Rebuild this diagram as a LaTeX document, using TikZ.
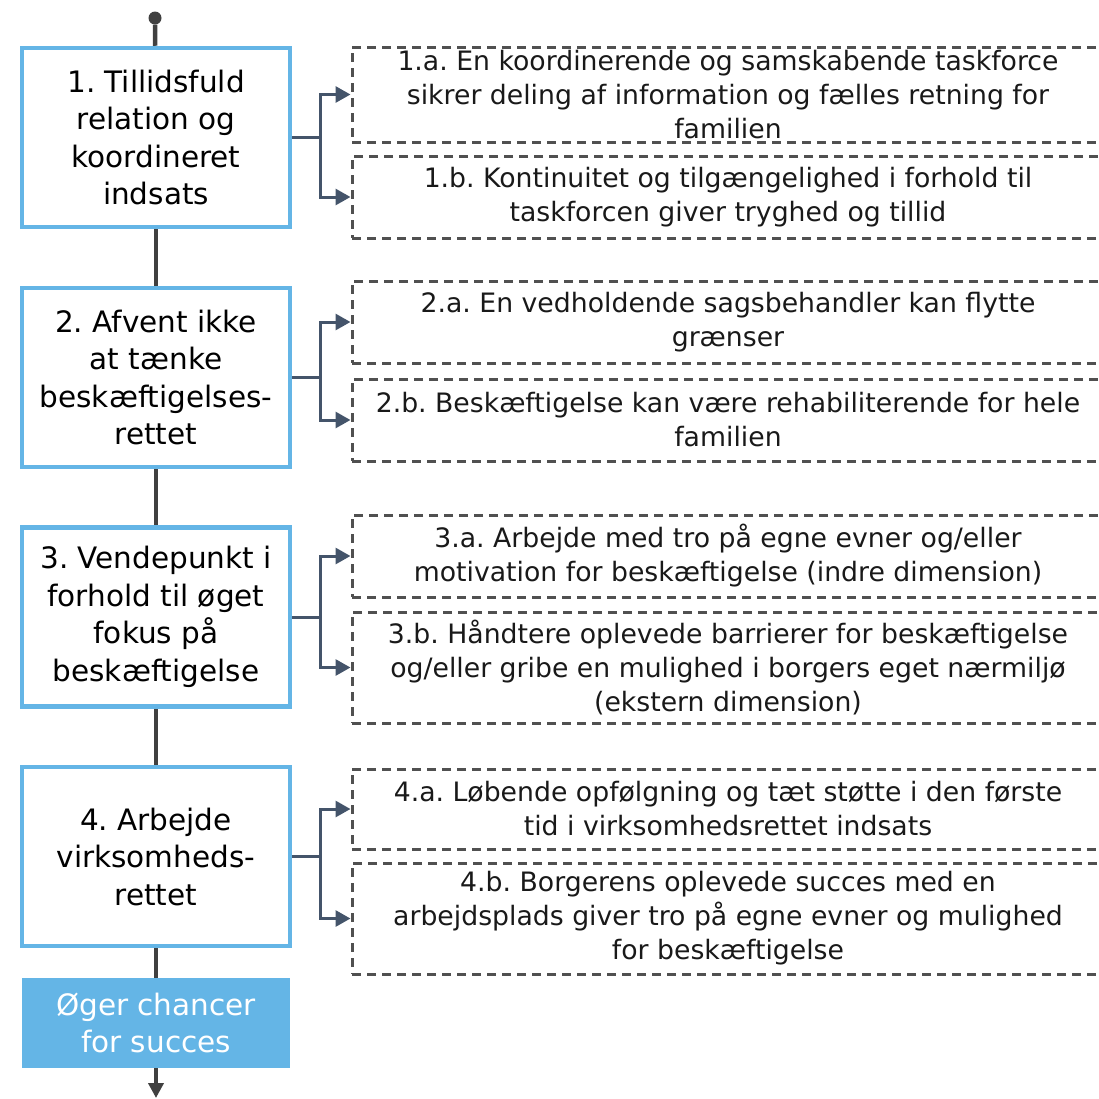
\documentclass[tikz,border=0pt]{standalone}
\usepackage{fontspec}
\setmainfont{DejaVu Sans}
\usepackage{xcolor}
\usepackage{tikz}
\usetikzlibrary{arrows.meta}
\definecolor{stageblue}{HTML}{64B5E6}
\definecolor{lineblack}{HTML}{404040}
\definecolor{slate}{HTML}{44546A}
\definecolor{dashgray}{HTML}{505050}
\frenchspacing

\begin{document}
\begin{tikzpicture}[
    x=1pt, y=-1pt,
    stage/.style={draw=stageblue, line width=4.5pt, fill=white, align=center, minimum width=268pt, minimum height=179pt, inner sep=0pt, font=\fontsize{29.5}{37.5}\selectfont},
    finding/.style={draw=dashgray, line width=3pt, dash pattern=on 9pt off 6pt, align=center, minimum width=752pt, inner sep=0pt, text=black!90, font=\fontsize{26.7}{34}\selectfont},
    result/.style={fill=stageblue, text=white, align=center, minimum width=268pt, minimum height=90pt, inner sep=0pt, font=\fontsize{29.5}{37.5}\selectfont},
    flow/.style={draw=lineblack, line width=4.5pt},
    branch/.style={draw=slate, line width=3pt, -{Triangle[length=15pt,width=16pt]}}
]
\clip (0,0) rectangle (1099,1098);

\node[circle, fill=lineblack, minimum size=13pt, inner sep=0pt] (start) at (155,18) {};

\node[stage] (s1) at (156,137.5) {1. Tillidsfuld\\relation og\\koordineret\\indsats};
\node[stage] (s2) at (156,377.5) {2. Afvent ikke\\at tænke\\beskæftigelses-\\rettet};
\node[stage] (s3) at (156,617) {3. Vendepunkt i\\forhold til øget\\fokus på\\beskæftigelse};
\node[stage] (s4) at (156,856.5) {4. Arbejde\\virksomheds-\\rettet};
\node[result] (goal) at (156,1023) {Øger chancer\\for succes};
\coordinate (exit) at (156,1098);

\node[finding, minimum height=95pt] (f1a) at (728,94.5) {1.a. En koordinerende og samskabende taskforce\\sikrer deling af information og fælles retning for\\familien};
\node[finding, minimum height=82pt] (f1b) at (728,197) {1.b. Kontinuitet og tilgængelighed i forhold til\\taskforcen giver tryghed og tillid};
\node[finding, minimum height=82pt] (f2a) at (728,322) {2.a. En vedholdende sagsbehandler kan flytte\\grænser};
\node[finding, minimum height=82pt] (f2b) at (728,420) {2.b. Beskæftigelse kan være rehabiliterende for hele\\familien};
\node[finding, minimum height=82pt] (f3a) at (728,556) {3.a. Arbejde med tro på egne evner og/eller\\motivation for beskæftigelse (indre dimension)};
\node[finding, minimum height=111pt] (f3b) at (728,667.5) {3.b. Håndtere oplevede barrierer for beskæftigelse\\og/eller gribe en mulighed i borgers eget nærmiljø\\(ekstern dimension)};
\node[finding, minimum height=80pt] (f4a) at (728,809) {4.a. Løbende opfølgning og tæt støtte i den første\\tid i virksomhedsrettet indsats};
\node[finding, minimum height=111pt] (f4b) at (728,918.5) {4.b. Borgerens oplevede succes med en\\arbejdsplads giver tro på egne evner og mulighed\\for beskæftigelse};

% main line
\draw[flow] (start) -- (s1);
\foreach \a/\b in {s1/s2,s2/s3,s3/s4,s4/goal}
    \draw[flow] (\a) -- (\b);
\draw[flow, -{Triangle[length=15pt,width=15pt]}] (goal) -- (exit);

% branches
\foreach \s/\f in {s1/f1a,s1/f1b,s2/f2a,s2/f2b,s3/f3a,s3/f3b,s4/f4a,s4/f4b}
    \draw[branch] (\s.east) -- ++(28,0) |- (\f.west);
\end{tikzpicture}
\end{document}
